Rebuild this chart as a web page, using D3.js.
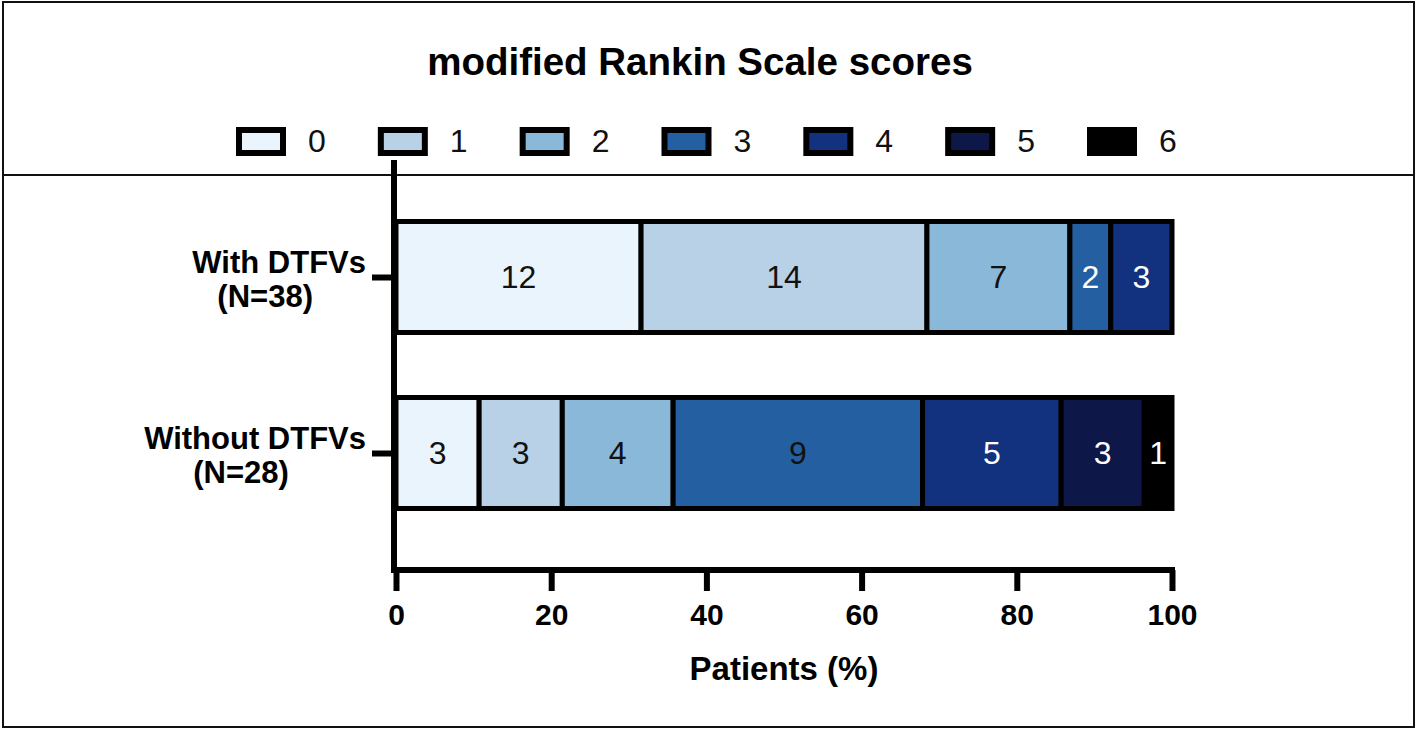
<!DOCTYPE html>
<html>
<head>
<meta charset="utf-8">
<script src="https://cdn.jsdelivr.net/npm/d3@7/dist/d3.min.js"></script>
<style>
  html, body { margin: 0; padding: 0; background: #fff; }
  svg { display: block; font-family: "Liberation Sans", Arial, Helvetica, sans-serif; }
</style>
</head>
<body>
<svg id="chart" width="1418" height="730"></svg>
<script>
// ---- data ----
const title = "modified Rankin Scale scores";
const scores = ["0", "1", "2", "3", "4", "5", "6"];
const groups = ["With DTFVs", "Without DTFVs"];
const groupN = ["(N=38)", "(N=28)"];
const withCounts = [12, 14, 7, 2, 3, 0, 0];
const withoutCounts = [3, 3, 4, 9, 5, 3, 1];
const xTicks = [0, 20, 40, 60, 80, 100];
const xLabel = "Patients (%)";

// ---- styles ----
const fills = ["#EAF4FC", "#B9D1E6", "#8AB8D8", "#2460A1", "#12317F", "#0D1849", "#000000"];
const whiteLabels = [[3, 4], [4, 5, 6]];

const svg = d3.select("#chart");

// frame
svg.append("rect").attr("x", 3).attr("y", 2).attr("width", 1411).attr("height", 725)
  .attr("fill", "none").attr("stroke", "#111").attr("stroke-width", 2);
svg.append("line").attr("x1", 3).attr("x2", 1414).attr("y1", 175).attr("y2", 175)
  .attr("stroke", "#111").attr("stroke-width", 2);

// title
svg.append("text").attr("x", 700).attr("y", 75).attr("text-anchor", "middle")
  .attr("font-weight", "bold").attr("font-size", 38.5).attr("fill", "#000").text(title);

// legend
const legX = d3.scalePoint().domain(scores).range([236, 1087]);
const leg = svg.append("g").selectAll("g").data(scores).join("g")
  .attr("transform", d => `translate(${legX(d)},0)`);
leg.append("rect").attr("x", 3).attr("y", 130).attr("width", 44).attr("height", 23)
  .attr("fill", (d, i) => fills[i]).attr("stroke", "#000").attr("stroke-width", 6);
leg.append("text").attr("x", 72).attr("y", 152).attr("font-size", 32).attr("fill", "#111")
  .text(d => d);

// scales
const x = d3.scaleLinear().domain([0, 100]).range([396, 1172]);
const y = d3.scalePoint().domain(groups).range([189, 541]).padding(0.5);
const barH = 111;

// axes lines
svg.append("line").attr("x1", x(0) - 2).attr("x2", x(0) - 2).attr("y1", 160).attr("y2", 573)
  .attr("stroke", "#000").attr("stroke-width", 6);
svg.append("line").attr("x1", x(0) - 5).attr("x2", x(100) + 3).attr("y1", 570).attr("y2", 570)
  .attr("stroke", "#000").attr("stroke-width", 6);

// x axis ticks via d3 axis
const xAxis = d3.axisBottom(x).tickValues(xTicks).tickSize(21).tickSizeOuter(0).tickPadding(6);
const gx = svg.append("g").attr("transform", "translate(0,570)").call(xAxis);
gx.select(".domain").remove();
gx.selectAll(".tick line").attr("stroke", "#000").attr("stroke-width", 6);
gx.selectAll(".tick text").attr("font-size", 30).attr("font-weight", "bold").attr("fill", "#000")
  .attr("font-family", "'Liberation Sans', Arial, sans-serif").attr("dy", null).attr("y", 55);

svg.append("text").attr("x", (x(0) + x(100)) / 2).attr("y", 680).attr("text-anchor", "middle")
  .attr("font-weight", "bold").attr("font-size", 33).attr("fill", "#000").text(xLabel);

// y axis ticks
const yAxis = d3.axisLeft(y).tickSize(22).tickSizeOuter(0).tickFormat("");
const gy = svg.append("g").attr("transform", `translate(${x(0) - 2},0)`).call(yAxis);
gy.select(".domain").remove();
gy.selectAll(".tick line").attr("stroke", "#000").attr("stroke-width", 6);

// y labels (two lines)
groups.forEach((g, i) => {
  const cy = y(g);
  const t1 = svg.append("text").attr("x", 366).attr("y", cy - 4).attr("text-anchor", "end")
    .attr("font-weight", "bold").attr("font-size", 31).attr("fill", "#000").text(g);
  const w1 = t1.node().getComputedTextLength();
  svg.append("text").attr("x", 366 - w1 / 2 - 14).attr("y", cy + 30).attr("text-anchor", "middle")
    .attr("font-weight", "bold").attr("font-size", 31).attr("fill", "#000").text(groupN[i]);
});

// bars
const rows = [withCounts, withoutCounts];
rows.forEach((counts, gi) => {
  const total = d3.sum(counts);
  let cum = 0;
  const segs = counts.map((c, si) => {
    const s = { si, c, x0: cum, x1: cum + c / total * 100 };
    cum = s.x1;
    return s;
  }).filter(s => s.c > 0);
  const cy = y(groups[gi]);
  const g = svg.append("g");
  g.selectAll("rect").data(segs).join("rect")
    .attr("x", s => x(s.x0)).attr("width", s => x(s.x1) - x(s.x0))
    .attr("y", cy - barH / 2).attr("height", barH)
    .attr("fill", s => fills[s.si]).attr("stroke", "#000").attr("stroke-width", 5);
  g.selectAll("text").data(segs).join("text")
    .attr("x", s => (x(s.x0) + x(s.x1)) / 2).attr("y", cy + 11)
    .attr("text-anchor", "middle").attr("font-size", 32)
    .attr("fill", s => whiteLabels[gi].includes(s.si) ? "#fff" : "#111")
    .text(s => s.c);
});
</script>
</body>
</html>
